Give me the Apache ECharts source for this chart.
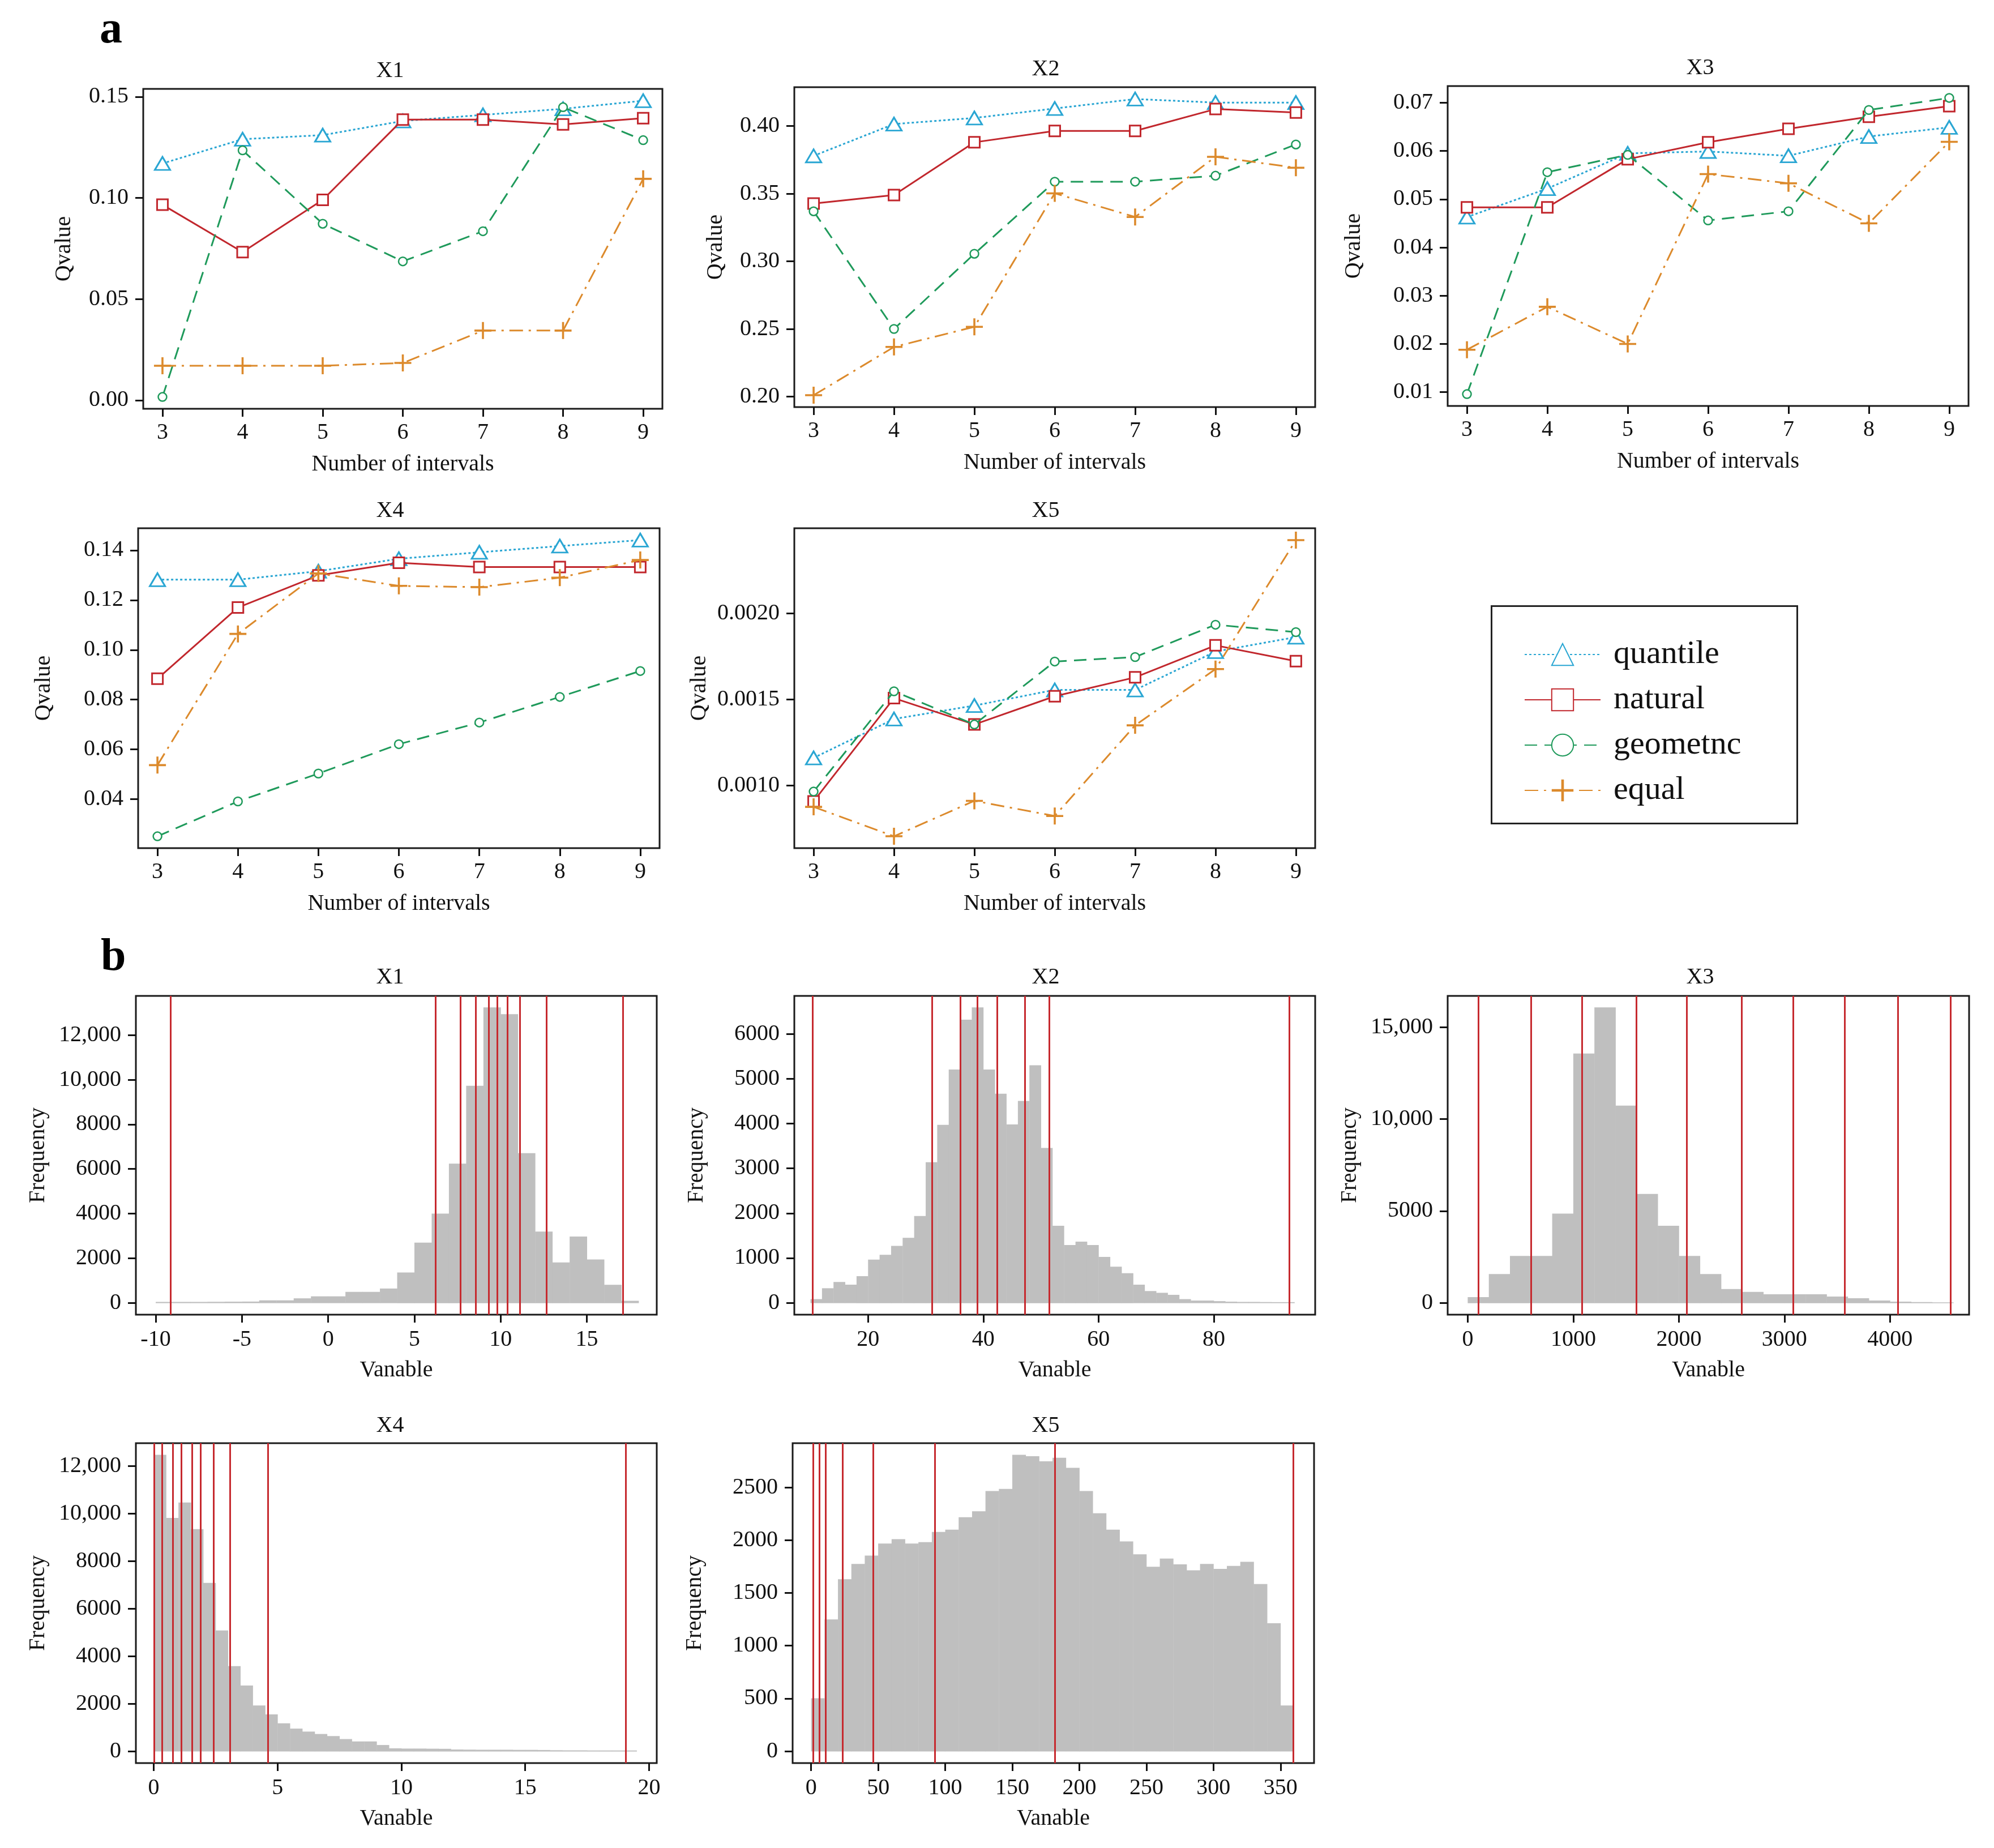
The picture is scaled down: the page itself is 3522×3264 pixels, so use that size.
<!DOCTYPE html>
<html>
<head>
<meta charset="utf-8">
<script src="https://cdn.jsdelivr.net/npm/echarts@6/dist/echarts.min.js"></script>
<style>
  html, body { margin: 0; padding: 0; background: #fff; }
  #chart { width: 3522px; height: 3264px; }
</style>
</head>
<body>
<div id="chart"></div>
<script>
// ---- panel a : Q values by number of intervals ----
const intervals = [3, 4, 5, 6, 7, 8, 9];
const methods = ['quantile', 'natural', 'geometnc', 'equal'];

const x1Quantile = [0.117, 0.129, 0.131, 0.138, 0.141, 0.144, 0.148];
const x1Natural = [0.0966, 0.0732, 0.099, 0.1387, 0.1387, 0.1363, 0.1394];
const x1Geometric = [0.0016, 0.1235, 0.0872, 0.0686, 0.0835, 0.1448, 0.1285];
const x1Equal = [0.017, 0.017, 0.017, 0.0184, 0.0344, 0.0344, 0.1094];

const x2Quantile = [0.378, 0.4015, 0.406, 0.413, 0.42, 0.4174, 0.4174];
const x2Natural = [0.3427, 0.349, 0.388, 0.3964, 0.3964, 0.4126, 0.41];
const x2Geometric = [0.337, 0.25, 0.3056, 0.3589, 0.3589, 0.3633, 0.3864];
const x2Equal = [0.201, 0.2367, 0.2516, 0.3503, 0.3328, 0.3773, 0.3692];

const x3Quantile = [0.0463, 0.0522, 0.0595, 0.0599, 0.059, 0.063, 0.0649];
const x3Natural = [0.0483, 0.0483, 0.0583, 0.0618, 0.0646, 0.0671, 0.0693];
const x3Geometric = [0.0096, 0.0556, 0.0592, 0.0456, 0.0475, 0.0685, 0.071];
const x3Equal = [0.0188, 0.0277, 0.02, 0.0552, 0.0533, 0.045, 0.0619];

const x4Quantile = [0.1282, 0.1282, 0.1316, 0.1366, 0.1392, 0.1417, 0.1441];
const x4Natural = [0.0884, 0.117, 0.1299, 0.135, 0.1333, 0.1333, 0.1333];
const x4Geometric = [0.0251, 0.0391, 0.0503, 0.0621, 0.0708, 0.0811, 0.0915];
const x4Equal = [0.0537, 0.1064, 0.1307, 0.1257, 0.1252, 0.129, 0.1361];

const x5Quantile = [0.001161, 0.001387, 0.001465, 0.001556, 0.001556, 0.001779, 0.001863];
const x5Natural = [0.000908, 0.001508, 0.001355, 0.001519, 0.001629, 0.001815, 0.001723];
const x5Geometric = [0.000965, 0.001548, 0.001355, 0.001721, 0.001747, 0.001935, 0.001892];
const x5Equal = [0.000876, 0.000705, 0.000911, 0.000823, 0.00135, 0.001677, 0.002427];

const qTicks1 = [0, 0.05, 0.10, 0.15];
const qTicks2 = [0.20, 0.25, 0.30, 0.35, 0.40];
const qTicks3 = [0.01, 0.02, 0.03, 0.04, 0.05, 0.06, 0.07];
const qTicks4 = [0.04, 0.06, 0.08, 0.10, 0.12, 0.14];
const qTicks5 = [0.0010, 0.0015, 0.0020];

// ---- panel b : histograms (bin start, bin width, counts) and break lines ----
const h1Start = -10, h1Width = 1;
const h1Counts = [30, 30, 30, 35, 40, 45, 100, 100, 190, 280, 280, 480, 480, 630, 1350, 2690,
  3990, 6230, 9720, 13230, 12930, 6700, 3180, 1800, 2960, 1930, 800, 80];
const h1Breaks = [-9.14, 6.21, 7.66, 8.57, 9.30, 9.79, 10.38, 11.10, 12.67, 17.09];
const h1XTicks = [-10, -5, 0, 5, 10, 15];
const h1YTicks = [0, 2000, 4000, 6000, 8000, 10000, 12000];
const h1XLim = [-11.15, 19.05];

const h2Start = 10, h2Width = 2;
const h2Counts = [77, 320, 460, 400, 590, 960, 1065, 1265, 1445, 1930, 3130, 3965, 5200, 6310,
  6585, 5200, 4660, 3975, 4500, 5295, 3450, 1715, 1285, 1360, 1285, 1020, 800, 655, 400, 257,
  218, 173, 77, 45, 45, 32, 20, 15, 15, 12, 10, 10];
const h2Breaks = [10.38, 31.15, 36.04, 38.95, 42.45, 47.19, 51.42, 93.12];
const h2XTicks = [20, 40, 60, 80];
const h2YTicks = [0, 1000, 2000, 3000, 4000, 5000, 6000];
const h2XLim = [7.2, 97.6];

const h3Start = 0, h3Width = 200;
const h3Counts = [300, 1550, 2540, 2540, 4840, 13550, 16060, 10720, 5910, 4180, 2540, 1550,
  740, 580, 455, 455, 455, 330, 235, 110, 50, 30, 15];
const h3Breaks = [101, 599, 1081, 1595, 2077, 2595, 3085, 3571, 4073, 4575];
const h3XTicks = [0, 1000, 2000, 3000, 4000];
const h3YTicks = [0, 5000, 10000, 15000];
const h3XLim = [-190, 4749];

const h4Start = 0, h4Width = 0.5;
const h4Counts = [12460, 9800, 10450, 9330, 7070, 5070, 3570, 2755, 1915, 1540, 1165, 940, 814,
  714, 626, 500, 400, 400, 250, 110, 100, 100, 95, 90, 60, 55, 50, 50, 50, 45, 45, 40,
  30, 25, 25, 20, 20, 20, 20];
const h4Breaks = [0.01, 0.34, 0.77, 1.11, 1.54, 1.90, 2.41, 3.09, 4.62, 19.06];
const h4XTicks = [0, 5, 10, 15, 20];
const h4YTicks = [0, 2000, 4000, 6000, 8000, 10000, 12000];
const h4XLim = [-0.72, 20.31];

const h5Start = 0, h5Width = 10;
const h5Counts = [500, 1247, 1627, 1773, 1852, 1965, 2007, 1965, 1979, 2075, 2097, 2215, 2272,
  2463, 2483, 2807, 2793, 2745, 2778, 2683, 2463, 2252, 2097, 1985, 1864, 1745, 1824, 1768,
  1712, 1773, 1726, 1754, 1793, 1582, 1210, 431];
const h5Breaks = [1.6, 6.3, 11, 23.5, 46.3, 92.4, 181.9, 359.4];
const h5XTicks = [0, 50, 100, 150, 200, 250, 300, 350];
const h5YTicks = [0, 500, 1000, 1500, 2000, 2500];
const h5XLim = [-13.8, 375];

// ---- layout ----
const FONT = 'Liberation Serif';
const INK = '#111';

// line panels: grid box and label positions
const linePanels = [
  { title: 'X1', box: [253, 157, 917, 565], titleX: 689, titleY: 125, yGap: 120, ticks: qTicks1, digits: 2,
    series: [x1Quantile, x1Natural, x1Geometric, x1Equal] },
  { title: 'X2', box: [1403, 154, 920, 565], titleX: 1847, titleY: 122, yGap: 119, ticks: qTicks2, digits: 2,
    series: [x2Quantile, x2Natural, x2Geometric, x2Equal] },
  { title: 'X3', box: [2557, 152, 920, 565], titleX: 3003, titleY: 120, yGap: 146, ticks: qTicks3, digits: 2,
    series: [x3Quantile, x3Natural, x3Geometric, x3Equal] },
  { title: 'X4', box: [244, 933, 921, 565], titleX: 689, titleY: 902, yGap: 147, ticks: qTicks4, digits: 2,
    series: [x4Quantile, x4Natural, x4Geometric, x4Equal] },
  { title: 'X5', box: [1403, 933, 920, 565], titleX: 1847, titleY: 902, yGap: 148, ticks: qTicks5, digits: 4,
    series: [x5Quantile, x5Natural, x5Geometric, x5Equal] }
];

const histPanels = [
  { title: 'X1', box: [240, 1759, 920, 563], titleX: 689, titleY: 1726, start: h1Start, width: h1Width,
    counts: h1Counts, breaks: h1Breaks, xTicks: h1XTicks, yTicks: h1YTicks, xLim: h1XLim },
  { title: 'X2', box: [1403, 1759, 920, 563], titleX: 1847, titleY: 1726, start: h2Start, width: h2Width,
    counts: h2Counts, breaks: h2Breaks, xTicks: h2XTicks, yTicks: h2YTicks, xLim: h2XLim },
  { title: 'X3', box: [2557, 1759, 921, 563], titleX: 3003, titleY: 1726, start: h3Start, width: h3Width,
    counts: h3Counts, breaks: h3Breaks, xTicks: h3XTicks, yTicks: h3YTicks, xLim: h3XLim },
  { title: 'X4', box: [240, 2549, 920, 565], titleX: 689, titleY: 2518, start: h4Start, width: h4Width,
    counts: h4Counts, breaks: h4Breaks, xTicks: h4XTicks, yTicks: h4YTicks, xLim: h4XLim },
  { title: 'X5', box: [1400, 2549, 921, 565], titleX: 1847, titleY: 2518, start: h5Start, width: h5Width,
    counts: h5Counts, breaks: h5Breaks, xTicks: h5XTicks, yTicks: h5YTicks, xLim: h5XLim }
];

const PLUS = 'path://M4.4,0 H5.6 V4.4 H10 V5.6 H5.6 V10 H4.4 V5.6 H0 V4.4 H4.4 Z';
const methodStyle = {
  quantile: { color: '#2aa6d3', dash: [4, 4], symbol: 'triangle', size: [27, 23], fill: '#fff', border: 3 },
  natural: { color: '#c1272d', dash: 'solid', symbol: 'rect', size: 19, fill: '#fff', border: 3 },
  geometnc: { color: '#1f9a5b', dash: [22, 13], symbol: 'circle', size: 15, fill: '#fff', border: 2.5 },
  equal: { color: '#dc8a2c', dash: [24, 10, 4, 10], symbol: PLUS, size: 30, fill: '#dc8a2c', border: 0 }
};

// R-like axis extension: 4% of the data range on each side
function padRange(lo, hi) {
  const r = hi - lo;
  return [lo - 0.04 * r, hi + 0.04 * r];
}

function tickAxis(gridIndex, lim, ticks, fmt, name, nameGap, margin) {
  return {
    type: 'value', gridIndex: gridIndex, min: lim[0], max: lim[1],
    axisLine: { show: false, onZero: false },
    axisTick: { show: true, inside: false, length: 14, lineStyle: { color: INK, width: 3 }, customValues: ticks },
    axisLabel: { customValues: ticks, formatter: fmt, margin: margin, fontSize: 40, fontFamily: FONT, color: INK },
    splitLine: { show: false },
    name: name, nameLocation: 'middle', nameGap: nameGap,
    nameTextStyle: { fontSize: 40, fontFamily: FONT, color: INK }
  };
}

const grids = [], xAxes = [], yAxes = [], series = [], titles = [];

titles.push({ text: 'a', left: 176, top: 14, padding: 0,
  textStyle: { fontSize: 80, fontWeight: 'bold', fontFamily: FONT, color: '#000' } });
titles.push({ text: 'b', left: 178, top: 1652, padding: 0,
  textStyle: { fontSize: 80, fontWeight: 'bold', fontFamily: FONT, color: '#000' } });

function addGrid(box) {
  grids.push({ left: box[0], top: box[1], width: box[2], height: box[3], show: true,
    borderColor: '#1a1a1a', borderWidth: 3, backgroundColor: 'transparent' });
  return grids.length - 1;
}

function addTitle(text, x, y) {
  titles.push({ text: text, left: x, top: y - 20, textAlign: 'center', padding: 0,
    textStyle: { fontSize: 40, fontWeight: 'normal', fontFamily: FONT, color: INK } });
}

linePanels.forEach(function (p) {
  const gi = addGrid(p.box);
  addTitle(p.title, p.titleX, p.titleY);
  const all = [].concat.apply([], p.series);
  const yLim = padRange(Math.min.apply(null, all), Math.max.apply(null, all));
  const xLim = padRange(intervals[0], intervals[intervals.length - 1]);
  xAxes.push(tickAxis(gi, xLim, intervals, function (v) { return String(v); }, 'Number of intervals', 78, 22));
  yAxes.push(tickAxis(gi, yLim, p.ticks, function (v) { return v.toFixed(p.digits); }, 'Qvalue', p.yGap, 26));
  p.series.forEach(function (vals, k) {
    const m = methods[k];
    const st = methodStyle[m];
    series.push({
      type: 'line', name: m, xAxisIndex: gi, yAxisIndex: gi,
      data: intervals.map(function (x, i) { return [x, vals[i]]; }),
      symbol: st.symbol, symbolSize: st.size, showSymbol: true,
      lineStyle: { color: st.color, width: 3, type: st.dash },
      itemStyle: { color: st.fill, borderColor: st.color, borderWidth: st.border },
      z: 3 + k
    });
  });
});

function countFmt(v) {
  return v >= 10000 ? v.toLocaleString('en-US') : String(v);
}

histPanels.forEach(function (p) {
  const gi = addGrid(p.box);
  addTitle(p.title, p.titleX, p.titleY);
  const yLim = padRange(0, Math.max.apply(null, p.counts));
  xAxes.push(tickAxis(gi, p.xLim, p.xTicks, function (v) { return String(v); }, 'Vanable', 78, 24));
  yAxes.push(tickAxis(gi, yLim, p.yTicks, countFmt, 'Frequency', 153, 26));
  series.push({
    type: 'custom', xAxisIndex: gi, yAxisIndex: gi,
    data: p.counts.map(function (c, i) { return [p.start + i * p.width, p.start + (i + 1) * p.width, c]; }),
    encode: { x: [0, 1], y: 2 },
    renderItem: function (params, api) {
      const a = api.coord([api.value(0), 0]);
      const b = api.coord([api.value(1), api.value(2)]);
      return {
        type: 'rect',
        shape: { x: a[0], y: Math.min(a[1], b[1]) - 0.5, width: b[0] - a[0] + 0.4, height: Math.abs(a[1] - b[1]) + 1 },
        style: { fill: '#bfbfbf' }
      };
    },
    markLine: {
      silent: true, symbol: 'none', animation: false,
      label: { show: false },
      lineStyle: { color: '#c62a2f', width: 3, type: 'solid' },
      data: p.breaks.map(function (v) { return { xAxis: v }; })
    },
    z: 2
  });
});

const chart = echarts.init(document.getElementById('chart'));
chart.setOption({
  animation: false,
  backgroundColor: '#fff',
  title: titles,
  grid: grids,
  xAxis: xAxes,
  yAxis: yAxes,
  legend: {
    orient: 'vertical', left: 2687, top: 1122,
    itemWidth: 134, itemHeight: 48, itemGap: 22,
    selectedMode: false,
    data: methods,
    textStyle: { fontSize: 58, fontFamily: FONT, color: INK, lineHeight: 48, padding: [0, 0, 0, 18] }
  },
  graphic: [{
    type: 'rect', left: 2632, top: 1068, silent: true,
    shape: { width: 540, height: 384 },
    style: { fill: 'none', stroke: '#222', lineWidth: 3 }
  }],
  series: series
});
</script>
</body>
</html>
